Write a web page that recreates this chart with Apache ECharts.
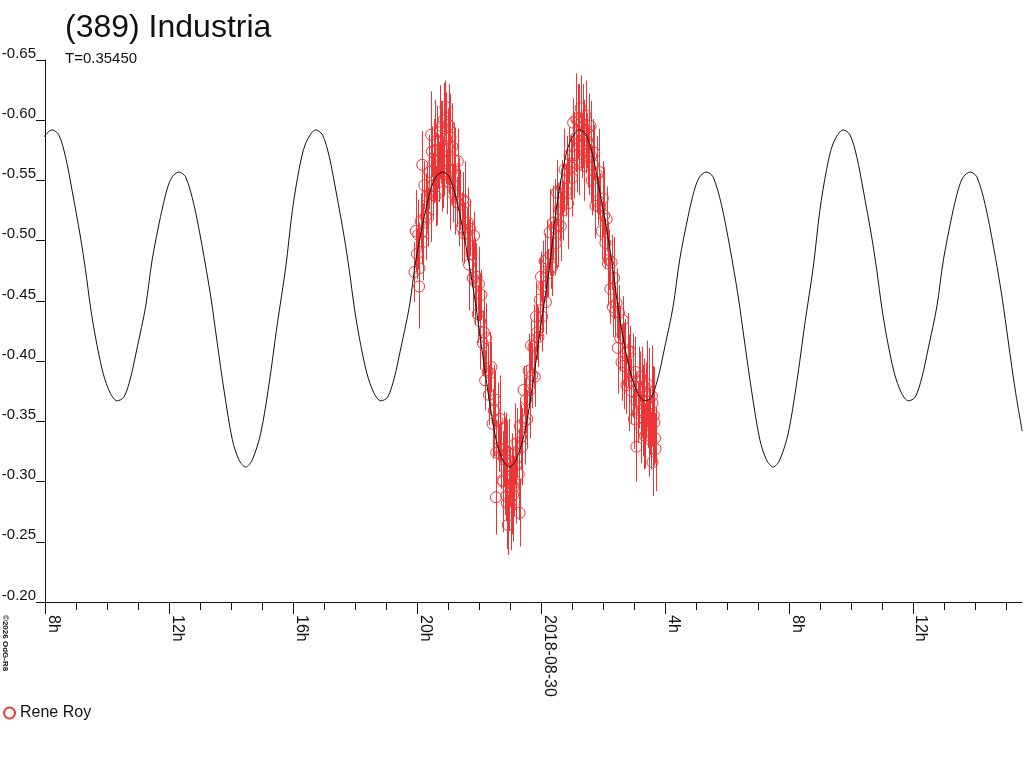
<!DOCTYPE html>
<html lang="en">
<head>
<meta charset="UTF-8">
<title>(389) Industria</title>
<script src="https://cdn.jsdelivr.net/npm/echarts@6/dist/echarts.min.js"></script>
<style>
  html, body { margin: 0; padding: 0; background: #fff; }
  #chart { width: 1024px; height: 768px; }
</style>
</head>
<body>
<div id="chart"></div>
<script>
// hours counted from 2018-08-29 00:00 UT
var majorHours = [8, 12, 16, 20, 24, 28, 32, 36];
var majorLabels = ['8h', '12h', '16h', '20h', '2018-08-30', '4h', '8h', '12h'];
var minorHours = [9, 10, 11, 13, 14, 15, 17, 18, 19, 21, 22, 23, 25, 26, 27, 29, 30, 31, 33, 34, 35, 37, 38, 39];

// fitted lightcurve
var fitHours = [
  7.96, 8.226, 8.442, 8.659, 8.872, 9.144, 9.305, 9.467, 9.628, 9.874, 10.113, 10.326, 10.543, 10.759, 10.972,
  11.244, 11.457, 11.728, 11.942, 12.103, 12.320, 12.536, 12.804, 13.073, 13.344, 13.557, 13.774, 14.042,
  14.258, 14.475, 14.688, 14.959, 15.228, 15.496, 15.767, 15.980, 16.197, 16.413,
  16.735, 16.951, 17.168, 17.381, 17.653, 17.814, 17.976, 18.137, 18.383, 18.622, 18.835, 19.052, 19.268,
  19.481, 19.753, 19.966, 20.237, 20.451, 20.612, 20.829, 21.045, 21.313, 21.582, 21.853, 22.066, 22.283,
  22.551, 22.767, 22.984, 23.197, 23.468, 23.737, 24.005, 24.276, 24.489, 24.706, 24.922,
  25.244, 25.460, 25.677, 25.890, 26.162, 26.323, 26.485, 26.646, 26.892, 27.131, 27.344, 27.561, 27.777,
  27.990, 28.262, 28.475, 28.746, 28.960, 29.121, 29.338, 29.554, 29.822, 30.091, 30.362, 30.575, 30.792,
  31.060, 31.276, 31.493, 31.706, 31.977, 32.246, 32.514, 32.785, 32.998, 33.215, 33.431,
  33.753, 33.969, 34.186, 34.399, 34.671, 34.832, 34.994, 35.155, 35.401, 35.640, 35.853, 36.070, 36.286,
  36.499, 36.771, 36.984, 37.255, 37.469, 37.630, 37.847, 38.063, 38.331, 38.600, 38.871, 39.084, 39.301, 39.525
];
var fitMag = [
  -0.586, -0.592, -0.588, -0.570, -0.542, -0.503, -0.476, -0.445, -0.420, -0.390, -0.373, -0.367, -0.370, -0.386, -0.411,
  -0.445, -0.484, -0.520, -0.543, -0.553, -0.557, -0.553, -0.530, -0.495, -0.454, -0.415, -0.376, -0.335,
  -0.318, -0.312, -0.318, -0.340, -0.381, -0.431, -0.478, -0.525, -0.559, -0.581,
  -0.592, -0.588, -0.570, -0.542, -0.503, -0.476, -0.445, -0.420, -0.390, -0.373, -0.367, -0.370, -0.386,
  -0.411, -0.445, -0.484, -0.520, -0.543, -0.553, -0.557, -0.553, -0.530, -0.495, -0.454, -0.415, -0.376,
  -0.335, -0.318, -0.312, -0.318, -0.340, -0.381, -0.431, -0.478, -0.525, -0.559, -0.581,
  -0.592, -0.588, -0.570, -0.542, -0.503, -0.476, -0.445, -0.420, -0.390, -0.373, -0.367, -0.370, -0.386,
  -0.411, -0.445, -0.484, -0.520, -0.543, -0.553, -0.557, -0.553, -0.530, -0.495, -0.454, -0.415, -0.376,
  -0.335, -0.318, -0.312, -0.318, -0.340, -0.381, -0.431, -0.478, -0.525, -0.559, -0.581,
  -0.592, -0.588, -0.570, -0.542, -0.503, -0.476, -0.445, -0.420, -0.390, -0.373, -0.367, -0.370, -0.386,
  -0.411, -0.445, -0.484, -0.520, -0.543, -0.553, -0.557, -0.553, -0.530, -0.495, -0.454, -0.415, -0.376, -0.342
];

// observations: [hour, magnitude, error]
var obsPoints = [
  [19.92, -0.474, 0.025], [19.96, -0.508, 0.034], [20.00, -0.489, 0.021], [20.04, -0.505, 0.029], [20.08, -0.477, 0.038],
  [20.12, -0.516, 0.023], [20.16, -0.507, 0.027], [20.20, -0.499, 0.032], [20.24, -0.546, 0.020], [20.28, -0.520, 0.036],
  [20.32, -0.537, 0.028], [20.36, -0.519, 0.024], [20.40, -0.557, 0.031], [20.44, -0.539, 0.040], [20.48, -0.574, 0.021],
  [20.52, -0.546, 0.027], [20.56, -0.566, 0.035], [20.60, -0.537, 0.025], [20.64, -0.583, 0.029], [20.68, -0.566, 0.023],
  [20.72, -0.557, 0.025], [20.76, -0.582, 0.034], [20.80, -0.595, 0.021], [20.84, -0.556, 0.029], [20.88, -0.575, 0.038],
  [20.92, -0.611, 0.022], [20.96, -0.549, 0.027], [21.00, -0.578, 0.032], [21.04, -0.559, 0.020], [21.08, -0.586, 0.036],
  [21.12, -0.558, 0.028], [21.16, -0.539, 0.024], [21.20, -0.567, 0.031], [21.24, -0.554, 0.040], [21.28, -0.532, 0.021],
  [21.32, -0.566, 0.027], [21.36, -0.530, 0.035], [21.40, -0.534, 0.025], [21.44, -0.511, 0.029], [21.48, -0.534, 0.023],
  [21.52, -0.506, 0.025], [21.56, -0.532, 0.034], [21.60, -0.506, 0.021], [21.64, -0.515, 0.029], [21.68, -0.480, 0.038],
  [21.72, -0.510, 0.023], [21.76, -0.489, 0.027], [21.80, -0.469, 0.032], [21.84, -0.504, 0.020], [21.88, -0.466, 0.036],
  [21.92, -0.470, 0.028], [21.96, -0.439, 0.024], [22.00, -0.464, 0.031], [22.04, -0.433, 0.040], [22.08, -0.455, 0.021],
  [22.12, -0.415, 0.027], [22.16, -0.424, 0.035], [22.20, -0.384, 0.025], [22.24, -0.419, 0.029], [22.28, -0.391, 0.023],
  [22.32, -0.372, 0.025], [22.36, -0.390, 0.034], [22.40, -0.395, 0.021], [22.44, -0.348, 0.029], [22.48, -0.359, 0.038],
  [22.52, -0.368, 0.023], [22.56, -0.324, 0.027], [22.60, -0.350, 0.032], [22.64, -0.328, 0.020], [22.68, -0.352, 0.036],
  [22.72, -0.322, 0.028], [22.76, -0.301, 0.024], [22.80, -0.327, 0.031], [22.84, -0.312, 0.040], [22.88, -0.288, 0.021],
  [22.92, -0.324, 0.027], [22.96, -0.294, 0.035], [23.00, -0.304, 0.025], [23.04, -0.287, 0.029], [23.08, -0.316, 0.023],
  [23.12, -0.296, 0.025], [23.16, -0.331, 0.034], [23.20, -0.314, 0.021], [23.24, -0.332, 0.029], [23.28, -0.306, 0.038],
  [23.32, -0.346, 0.023], [23.36, -0.337, 0.027], [23.40, -0.329, 0.032], [23.44, -0.376, 0.020], [23.48, -0.350, 0.036],
  [23.52, -0.368, 0.028], [23.56, -0.352, 0.024], [23.60, -0.392, 0.031], [23.64, -0.376, 0.040], [23.68, -0.413, 0.021],
  [23.72, -0.388, 0.027], [23.76, -0.412, 0.035], [23.80, -0.387, 0.025], [23.84, -0.437, 0.029], [23.88, -0.424, 0.023],
  [23.92, -0.420, 0.025], [23.96, -0.451, 0.034], [24.00, -0.470, 0.021], [24.04, -0.437, 0.029], [24.08, -0.462, 0.038],
  [24.12, -0.483, 0.023], [24.16, -0.449, 0.027], [24.20, -0.485, 0.032], [24.24, -0.473, 0.020], [24.28, -0.507, 0.036],
  [24.32, -0.488, 0.028], [24.36, -0.478, 0.024], [24.40, -0.515, 0.031], [24.44, -0.511, 0.040], [24.48, -0.498, 0.021],
  [24.52, -0.540, 0.027], [24.56, -0.513, 0.035], [24.60, -0.526, 0.025], [24.64, -0.512, 0.029], [24.68, -0.544, 0.023],
  [24.72, -0.525, 0.025], [24.76, -0.559, 0.034], [24.80, -0.541, 0.021], [24.84, -0.558, 0.029], [24.88, -0.531, 0.038],
  [24.92, -0.571, 0.023], [24.96, -0.561, 0.027], [25.00, -0.552, 0.032], [25.04, -0.598, 0.020], [25.08, -0.571, 0.036],
  [25.12, -0.585, 0.028], [25.16, -0.564, 0.024], [25.20, -0.599, 0.031], [25.24, -0.578, 0.040], [25.28, -0.610, 0.021],
  [25.32, -0.579, 0.027], [25.36, -0.595, 0.035], [25.40, -0.562, 0.025], [25.44, -0.604, 0.029], [25.48, -0.583, 0.023],
  [25.52, -0.569, 0.025], [25.56, -0.588, 0.034], [25.60, -0.595, 0.021], [25.64, -0.550, 0.029], [25.68, -0.563, 0.038],
  [25.72, -0.573, 0.023], [25.76, -0.529, 0.027], [25.80, -0.555, 0.032], [25.84, -0.533, 0.020], [25.88, -0.557, 0.036],
  [25.92, -0.528, 0.028], [25.96, -0.508, 0.024], [26.00, -0.535, 0.031], [26.04, -0.521, 0.040], [26.08, -0.498, 0.021],
  [26.12, -0.518, 0.027], [26.16, -0.481, 0.035], [26.20, -0.484, 0.025], [26.24, -0.460, 0.029], [26.28, -0.482, 0.023],
  [26.32, -0.445, 0.025], [26.36, -0.469, 0.034], [26.40, -0.441, 0.021], [26.44, -0.448, 0.029], [26.48, -0.411, 0.038],
  [26.52, -0.440, 0.023], [26.56, -0.419, 0.027], [26.60, -0.399, 0.032], [26.64, -0.434, 0.020], [26.68, -0.396, 0.036],
  [26.72, -0.407, 0.028], [26.76, -0.380, 0.024], [26.80, -0.409, 0.031], [26.84, -0.382, 0.040], [26.88, -0.408, 0.021],
  [26.92, -0.375, 0.027], [26.96, -0.388, 0.035], [27.00, -0.352, 0.025], [27.04, -0.391, 0.029], [27.08, -0.367, 0.023],
  [27.12, -0.357, 0.025], [27.16, -0.378, 0.034], [27.20, -0.387, 0.021], [27.24, -0.344, 0.029], [27.28, -0.359, 0.038],
  [27.32, -0.379, 0.023], [27.36, -0.338, 0.027], [27.40, -0.367, 0.032], [27.44, -0.348, 0.020], [27.48, -0.375, 0.036],
  [27.52, -0.350, 0.028], [27.56, -0.334, 0.024], [27.60, -0.365, 0.031], [27.64, -0.355, 0.040], [27.68, -0.336, 0.021],
  // denser stretches and outliers
  [20.07, -0.462, 0.035], [20.17, -0.563, 0.028], [20.46, -0.588, 0.036], [20.58, -0.575, 0.042], [20.66, -0.548, 0.035],
  [20.74, -0.590, 0.039], [20.82, -0.566, 0.042], [20.86, -0.600, 0.031], [20.94, -0.585, 0.038], [21.02, -0.596, 0.034],
  [21.06, -0.548, 0.039], [21.14, -0.578, 0.036], [21.22, -0.540, 0.035],
  [22.55, -0.287, 0.031], [22.78, -0.300, 0.042], [22.86, -0.318, 0.039], [22.90, -0.282, 0.038], [22.93, -0.264, 0.025],
  [22.98, -0.310, 0.042], [23.02, -0.279, 0.036], [23.06, -0.298, 0.042], [23.10, -0.289, 0.039], [23.18, -0.300, 0.035],
  [23.31, -0.274, 0.028],
  [25.14, -0.601, 0.038], [25.22, -0.588, 0.042], [25.30, -0.598, 0.039], [25.38, -0.575, 0.042], [25.46, -0.592, 0.036],
  [25.54, -0.580, 0.042], [25.62, -0.570, 0.039],
  [27.08, -0.329, 0.029], [27.26, -0.374, 0.038], [27.34, -0.352, 0.042], [27.42, -0.381, 0.036], [27.50, -0.343, 0.039],
  [27.58, -0.371, 0.042], [27.60, -0.316, 0.028], [27.66, -0.349, 0.036], [27.70, -0.327, 0.035]
];

var RED = '#ee3535';
var INK = '#111111';
var FONT = 'Liberation Sans, Arial, sans-serif';

var fitData = fitHours.map(function (h, i) { return [h, fitMag[i]]; });

function renderErrorBar(params, api) {
  var t = api.value(0), m = api.value(1), e = api.value(2);
  var top = api.coord([t, m - e]);
  var bot = api.coord([t, m + e]);
  var x = Math.round(top[0]) + 0.5;
  return {
    type: 'line',
    shape: { x1: x, y1: top[1], x2: x, y2: bot[1] },
    style: { stroke: RED, lineWidth: 1 }
  };
}

var chart = echarts.init(document.getElementById('chart'));

var option = {
  animation: false,
  backgroundColor: '#fff',
  textStyle: { fontFamily: FONT },
  grid: { left: 45, right: 2, top: 60, bottom: 166, containLabel: false, outerBoundsMode: 'none' },
  graphic: [
    { type: 'text', left: 65, top: 12, style: { text: '(389) Industria', font: '32px ' + FONT, fill: INK } },
    { type: 'text', left: 65, top: 51, style: { text: 'T=0.35450', font: '15px ' + FONT, fill: INK } },
    { type: 'text', x: 1, y: 615, rotation: -Math.PI / 2,
      style: { text: '\u00a92026 OdG-R8', font: 'bold 8px ' + FONT, fill: INK, textAlign: 'left', textVerticalAlign: 'bottom' } }
  ],
  legend: {
    left: 3, top: 705, padding: 0, itemWidth: 11, itemHeight: 11, itemGap: 10,
    data: ['Rene Roy'],
    textStyle: { fontSize: 16, color: INK, fontFamily: FONT }
  },
  xAxis: [{
    type: 'value', min: 8, max: 39.52,
    axisLine: { show: true, onZero: false, lineStyle: { color: INK, width: 1 } },
    axisTick: { show: true, customValues: majorHours, length: 12, lineStyle: { color: INK } },
    axisLabel: {
      customValues: majorHours, rotate: -90, margin: 13, verticalAlign: 'bottom',
      fontSize: 16, color: INK, fontFamily: FONT,
      formatter: function (v) { return majorLabels[majorHours.indexOf(Math.round(v))]; }
    },
    splitLine: { show: false }
  }, {
    type: 'value', min: 8, max: 39.52, position: 'bottom',
    axisLine: { show: false, onZero: false },
    axisTick: { show: true, customValues: minorHours, length: 8, lineStyle: { color: INK } },
    axisLabel: { show: false },
    splitLine: { show: false }
  }],
  yAxis: {
    type: 'value', inverse: true, min: -0.65, max: -0.20, interval: 0.05,
    axisLine: { show: true, lineStyle: { color: INK, width: 1 } },
    axisTick: { show: true, length: 9, lineStyle: { color: INK } },
    axisLabel: {
      margin: 9, fontSize: 15, color: INK, fontFamily: FONT, verticalAlign: 'bottom', lineHeight: 13,
      formatter: function (v) { return v.toFixed(2); }
    },
    splitLine: { show: false }
  },
  series: [{
    name: 'errors', type: 'custom', renderItem: renderErrorBar, silent: true,
    encode: { x: 0, y: [1, 2] }, data: obsPoints, z: 1
  }, {
    name: 'Rene Roy', type: 'scatter', symbol: 'circle', symbolSize: 11,
    itemStyle: { color: 'rgba(255,255,255,0)', borderColor: RED, borderWidth: 1, opacity: 1 },
    data: obsPoints.map(function (p) { return [p[0], p[1]]; }), z: 2, silent: true
  }, {
    name: 'fit', type: 'line', data: fitData, showSymbol: false, smooth: 0.3,
    lineStyle: { color: INK, width: 1 }, z: 3, silent: true
  }]
};

chart.setOption(option);
</script>
</body>
</html>
